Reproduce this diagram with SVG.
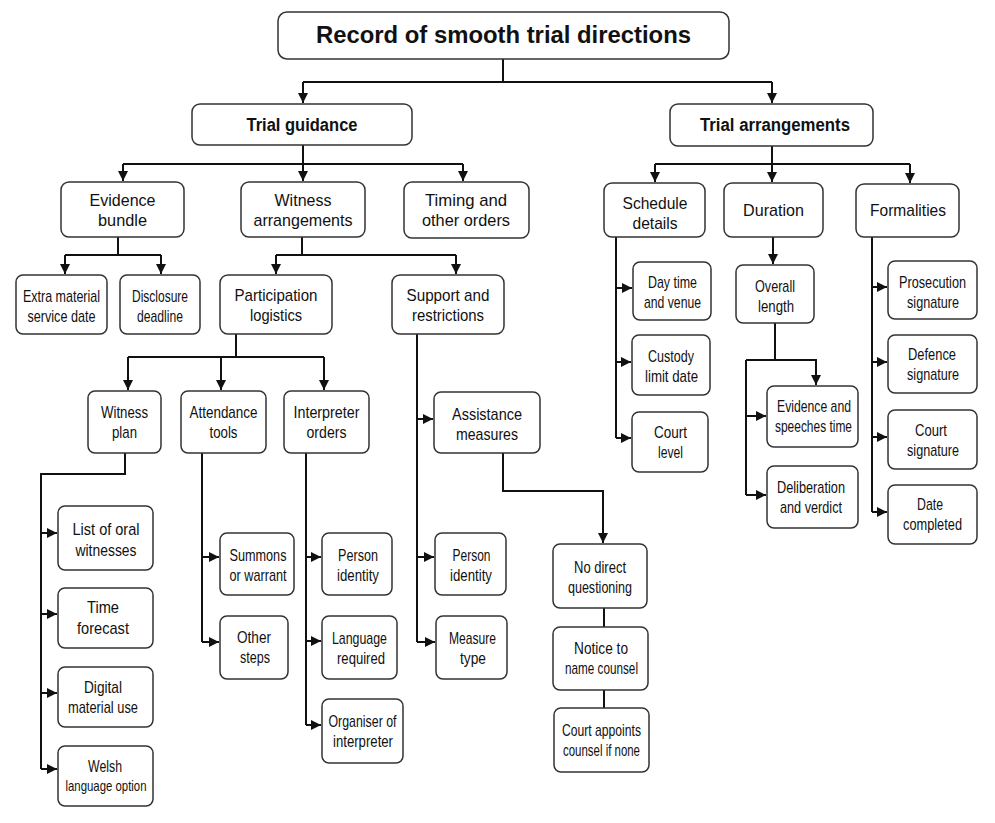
<svg xmlns="http://www.w3.org/2000/svg" width="995" height="823" viewBox="0 0 995 823">
<defs>
<marker id="ah" markerUnits="userSpaceOnUse" markerWidth="10" markerHeight="10" refX="10" refY="5" orient="auto"><path d="M0,0 L10,5 L0,10 z" fill="#111"/></marker>
<style>
rect{fill:#fff;stroke:#333;stroke-width:1.5}
text{font-family:"Liberation Sans",Arial,sans-serif;font-size:17px;fill:#111;text-anchor:middle}
.b{font-weight:bold;font-size:18px}
.t{font-weight:bold;font-size:23px}
.s{font-size:15px}
#connectors path{fill:none;stroke:#111;stroke-width:2}
#connectors path.a{marker-end:url(#ah)}
</style>
</defs>
<rect x="0" y="0" width="995" height="823" style="fill:#fff;stroke:none"/>
<g id="connectors">
<path d="M503,59 V82 M303,82 H772"/>
<path class="a" d="M303,82 V103"/><path class="a" d="M772,82 V103"/>
<path d="M303,145 V164 M123,164 H463"/>
<path class="a" d="M123,164 V181"/><path class="a" d="M303,164 V181"/><path class="a" d="M463,164 V181"/>
<path d="M772,146 V164 M655,164 H910"/>
<path class="a" d="M655,164 V182"/><path class="a" d="M772,164 V182"/><path class="a" d="M910,164 V183"/>
<path d="M118,237 V255 M65,255 H161"/>
<path class="a" d="M65,255 V274"/><path class="a" d="M161,255 V274"/>
<path d="M302,237 V255 M276,255 H456"/>
<path class="a" d="M276,255 V274"/><path class="a" d="M456,255 V274"/>
<path d="M236,334 V357 M128,357 H324"/>
<path class="a" d="M128,357 V390"/><path class="a" d="M221,357 V390"/><path class="a" d="M324,357 V390"/>
<path d="M125,453 V474 H41 V769"/>
<path class="a" d="M41,533 H57"/><path class="a" d="M41,614 H57"/><path class="a" d="M41,693 H57"/><path class="a" d="M41,769 H57"/>
<path d="M202,453 V642"/>
<path class="a" d="M202,557 H219"/><path class="a" d="M202,642 H219"/>
<path d="M306,453 V725"/>
<path class="a" d="M306,557 H321"/><path class="a" d="M306,641 H321"/><path class="a" d="M306,725 H321"/>
<path d="M417,334 V642"/>
<path class="a" d="M417,419 H433"/><path class="a" d="M417,557 H434"/><path class="a" d="M417,642 H435"/>
<path class="a" d="M503,453 V491 H603 V543"/>
<path d="M604,608 V627 M604,690 V708"/>
<path d="M616,237 V438"/>
<path class="a" d="M616,288 H632"/><path class="a" d="M616,362 H631"/><path class="a" d="M616,438 H631"/>
<path class="a" d="M773,237 V264"/>
<path d="M775,323 V360 M746,360 V495"/>
<path class="a" d="M746,360 H816 V385"/>
<path class="a" d="M746,416 H766"/><path class="a" d="M746,495 H766"/>
<path d="M872,237 V512"/>
<path class="a" d="M872,287 H887"/><path class="a" d="M872,362 H887"/><path class="a" d="M872,437 H887"/><path class="a" d="M872,512 H887"/>
</g>
<g id="title"><rect x="278" y="12" width="451" height="47" rx="9"/><text class="t" x="503.5" y="43" textLength="375" lengthAdjust="spacingAndGlyphs">Record of smooth trial directions</text></g>
<g id="tg"><rect x="192" y="104" width="220" height="41" rx="8"/><text class="b" x="302" y="131" textLength="111" lengthAdjust="spacingAndGlyphs">Trial guidance</text></g>
<g id="ta"><rect x="670" y="104" width="203" height="42" rx="8"/><text class="b" x="775" y="131" textLength="150" lengthAdjust="spacingAndGlyphs">Trial arrangements</text></g>
<g id="eb"><rect x="61" y="182" width="123" height="55" rx="8"/><text x="122.5" y="206" textLength="66" lengthAdjust="spacingAndGlyphs">Evidence</text><text x="122.5" y="226" textLength="49" lengthAdjust="spacingAndGlyphs">bundle</text></g>
<g id="wa"><rect x="241" y="182" width="124" height="55" rx="8"/><text x="303" y="206" textLength="57" lengthAdjust="spacingAndGlyphs">Witness</text><text x="303" y="226" textLength="99" lengthAdjust="spacingAndGlyphs">arrangements</text></g>
<g id="to"><rect x="404" y="182" width="125" height="56" rx="8"/><text x="466" y="206" textLength="82" lengthAdjust="spacingAndGlyphs">Timing and</text><text x="466" y="226" textLength="88" lengthAdjust="spacingAndGlyphs">other orders</text></g>
<g id="sd"><rect x="604" y="183" width="101" height="54" rx="8"/><text x="655" y="209" textLength="65" lengthAdjust="spacingAndGlyphs">Schedule</text><text x="655" y="229" textLength="45" lengthAdjust="spacingAndGlyphs">details</text></g>
<g id="du"><rect x="724" y="183" width="99" height="54" rx="8"/><text x="773.5" y="216" textLength="61" lengthAdjust="spacingAndGlyphs">Duration</text></g>
<g id="fo"><rect x="856" y="184" width="103" height="53" rx="8"/><text x="908" y="216" textLength="76" lengthAdjust="spacingAndGlyphs">Formalities</text></g>
<g id="em"><rect x="16" y="275" width="91" height="59" rx="7"/><text x="61.5" y="302" textLength="77" lengthAdjust="spacingAndGlyphs">Extra material</text><text x="61.5" y="322" textLength="68" lengthAdjust="spacingAndGlyphs">service date</text></g>
<g id="dd"><rect x="120" y="275" width="80" height="59" rx="7"/><text x="160" y="302" textLength="56" lengthAdjust="spacingAndGlyphs">Disclosure</text><text x="160" y="322" textLength="46" lengthAdjust="spacingAndGlyphs">deadline</text></g>
<g id="pl"><rect x="220" y="275" width="112" height="59" rx="8"/><text x="276" y="301" textLength="83" lengthAdjust="spacingAndGlyphs">Participation</text><text x="276" y="321" textLength="52" lengthAdjust="spacingAndGlyphs">logistics</text></g>
<g id="sr"><rect x="392" y="275" width="112" height="59" rx="8"/><text x="448" y="301" textLength="83" lengthAdjust="spacingAndGlyphs">Support and</text><text x="448" y="321" textLength="72" lengthAdjust="spacingAndGlyphs">restrictions</text></g>
<g id="wp"><rect x="88" y="391" width="73" height="62" rx="7"/><text x="124.5" y="418" textLength="47" lengthAdjust="spacingAndGlyphs">Witness</text><text x="124.5" y="438" textLength="25" lengthAdjust="spacingAndGlyphs">plan</text></g>
<g id="at"><rect x="181" y="391" width="85" height="62" rx="7"/><text x="223.5" y="418" textLength="68" lengthAdjust="spacingAndGlyphs">Attendance</text><text x="223.5" y="438" textLength="28" lengthAdjust="spacingAndGlyphs">tools</text></g>
<g id="io"><rect x="284" y="391" width="85" height="62" rx="7"/><text x="326.5" y="418" textLength="66" lengthAdjust="spacingAndGlyphs">Interpreter</text><text x="326.5" y="438" textLength="40" lengthAdjust="spacingAndGlyphs">orders</text></g>
<g id="am"><rect x="434" y="392" width="106" height="61" rx="7"/><text x="487" y="420" textLength="70" lengthAdjust="spacingAndGlyphs">Assistance</text><text x="487" y="440" textLength="62" lengthAdjust="spacingAndGlyphs">measures</text></g>
<g id="lo"><rect x="58" y="506" width="95" height="64" rx="7"/><text x="106" y="535" textLength="67" lengthAdjust="spacingAndGlyphs">List of oral</text><text x="106" y="556" textLength="61" lengthAdjust="spacingAndGlyphs">witnesses</text></g>
<g id="tf"><rect x="58" y="588" width="95" height="60" rx="7"/><text x="103" y="613" textLength="32" lengthAdjust="spacingAndGlyphs">Time</text><text x="103" y="634" textLength="52" lengthAdjust="spacingAndGlyphs">forecast</text></g>
<g id="dm"><rect x="58" y="667" width="95" height="60" rx="7"/><text x="103" y="693" textLength="38" lengthAdjust="spacingAndGlyphs">Digital</text><text x="103" y="713" textLength="70" lengthAdjust="spacingAndGlyphs">material use</text></g>
<g id="wl"><rect x="58" y="746" width="95" height="60" rx="7"/><text x="105" y="772" textLength="34" lengthAdjust="spacingAndGlyphs">Welsh</text><text class="s" x="106" y="791" textLength="81" lengthAdjust="spacingAndGlyphs">language option</text></g>
<g id="sw"><rect x="220" y="533" width="74" height="62" rx="7"/><text x="258" y="561" textLength="57" lengthAdjust="spacingAndGlyphs">Summons</text><text x="258" y="581" textLength="57" lengthAdjust="spacingAndGlyphs">or warrant</text></g>
<g id="os"><rect x="220" y="616" width="68" height="63" rx="7"/><text x="254" y="643" textLength="34" lengthAdjust="spacingAndGlyphs">Other</text><text x="255" y="663" textLength="30" lengthAdjust="spacingAndGlyphs">steps</text></g>
<g id="pi"><rect x="322" y="533" width="70" height="62" rx="7"/><text x="358" y="561" textLength="40" lengthAdjust="spacingAndGlyphs">Person</text><text x="358" y="581" textLength="42" lengthAdjust="spacingAndGlyphs">identity</text></g>
<g id="lr"><rect x="322" y="616" width="75" height="63" rx="7"/><text x="359.5" y="644" textLength="55" lengthAdjust="spacingAndGlyphs">Language</text><text x="361" y="664" textLength="48" lengthAdjust="spacingAndGlyphs">required</text></g>
<g id="oi"><rect x="322" y="699" width="81" height="64" rx="7"/><text x="362.5" y="727" textLength="68" lengthAdjust="spacingAndGlyphs">Organiser of</text><text x="363" y="747" textLength="60" lengthAdjust="spacingAndGlyphs">interpreter</text></g>
<g id="pi2"><rect x="435" y="533" width="71" height="62" rx="7"/><text x="471.5" y="561" textLength="38" lengthAdjust="spacingAndGlyphs">Person</text><text x="471" y="581" textLength="42" lengthAdjust="spacingAndGlyphs">identity</text></g>
<g id="mt"><rect x="436" y="616" width="71" height="63" rx="7"/><text x="472.5" y="644" textLength="47" lengthAdjust="spacingAndGlyphs">Measure</text><text x="473" y="664" textLength="26" lengthAdjust="spacingAndGlyphs">type</text></g>
<g id="nd"><rect x="553" y="544" width="94" height="64" rx="7"/><text x="600" y="573" textLength="52" lengthAdjust="spacingAndGlyphs">No direct</text><text x="600" y="593" textLength="64" lengthAdjust="spacingAndGlyphs">questioning</text></g>
<g id="nc"><rect x="553" y="627" width="95" height="63" rx="7"/><text x="601" y="654" textLength="54" lengthAdjust="spacingAndGlyphs">Notice to</text><text x="601.5" y="674" textLength="73" lengthAdjust="spacingAndGlyphs">name counsel</text></g>
<g id="ca"><rect x="554" y="708" width="95" height="64" rx="7"/><text x="601.5" y="736" textLength="79" lengthAdjust="spacingAndGlyphs">Court appoints</text><text x="601.5" y="756" textLength="77" lengthAdjust="spacingAndGlyphs">counsel if none</text></g>
<g id="dt"><rect x="633" y="262" width="78" height="58" rx="7"/><text x="672.5" y="288" textLength="49" lengthAdjust="spacingAndGlyphs">Day time</text><text x="672.5" y="308" textLength="57" lengthAdjust="spacingAndGlyphs">and venue</text></g>
<g id="cl"><rect x="632" y="335" width="78" height="60" rx="7"/><text x="671" y="362" textLength="46" lengthAdjust="spacingAndGlyphs">Custody</text><text x="671.5" y="382" textLength="53" lengthAdjust="spacingAndGlyphs">limit date</text></g>
<g id="cv"><rect x="632" y="412" width="76" height="60" rx="7"/><text x="670.5" y="438" textLength="33" lengthAdjust="spacingAndGlyphs">Court</text><text x="670.5" y="458" textLength="25" lengthAdjust="spacingAndGlyphs">level</text></g>
<g id="ol"><rect x="736" y="265" width="78" height="58" rx="7"/><text x="775" y="292" textLength="40" lengthAdjust="spacingAndGlyphs">Overall</text><text x="776" y="312" textLength="36" lengthAdjust="spacingAndGlyphs">length</text></g>
<g id="es"><rect x="767" y="386" width="91" height="61" rx="7"/><text x="814" y="412" textLength="74" lengthAdjust="spacingAndGlyphs">Evidence and</text><text x="813.5" y="432" textLength="77" lengthAdjust="spacingAndGlyphs">speeches time</text></g>
<g id="dv"><rect x="767" y="466" width="91" height="62" rx="7"/><text x="811" y="493" textLength="68" lengthAdjust="spacingAndGlyphs">Deliberation</text><text x="811" y="513" textLength="62" lengthAdjust="spacingAndGlyphs">and verdict</text></g>
<g id="ps"><rect x="888" y="261" width="89" height="58" rx="7"/><text x="932.5" y="288" textLength="67" lengthAdjust="spacingAndGlyphs">Prosecution</text><text x="933" y="308" textLength="52" lengthAdjust="spacingAndGlyphs">signature</text></g>
<g id="ds"><rect x="888" y="335" width="89" height="58" rx="7"/><text x="932" y="360" textLength="48" lengthAdjust="spacingAndGlyphs">Defence</text><text x="933" y="380" textLength="52" lengthAdjust="spacingAndGlyphs">signature</text></g>
<g id="cs"><rect x="888" y="410" width="89" height="59" rx="7"/><text x="931" y="436" textLength="32" lengthAdjust="spacingAndGlyphs">Court</text><text x="933" y="456" textLength="52" lengthAdjust="spacingAndGlyphs">signature</text></g>
<g id="dc"><rect x="888" y="485" width="89" height="59" rx="7"/><text x="930" y="510" textLength="26" lengthAdjust="spacingAndGlyphs">Date</text><text x="932.5" y="530" textLength="59" lengthAdjust="spacingAndGlyphs">completed</text></g>
</svg>
